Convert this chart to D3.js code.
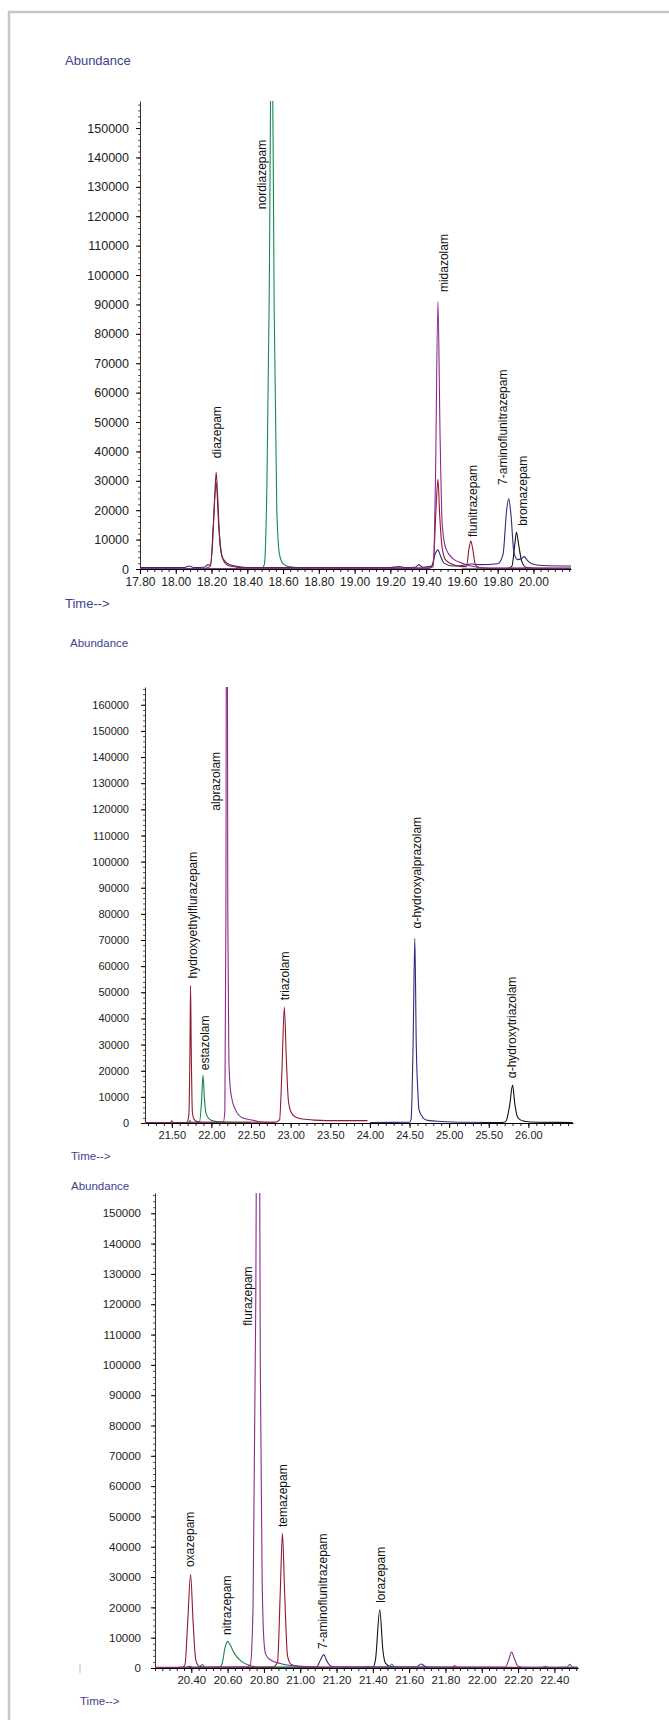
<!DOCTYPE html>
<html lang="en">
<head>
    <meta charset="UTF-8">
    <title>Benzodiazepine chromatograms</title>
    <script src="https://d3js.org/d3.v7.min.js"></script>
    <style>
        body { margin: 0; background: #fff; }
        svg { display: block; }
    </style>
</head>
<body>
    <div id="chart"></div>
    <script>
        // ---- run 1 : 17.80 - 20.2 min ----
        const run1TimeTicks = ["17.80", "18.00", "18.20", "18.40", "18.60", "18.80", "19.00", "19.20", "19.40", "19.60", "19.80", "20.00"];
        const run1AbundanceTicks = [0, 10000, 20000, 30000, 40000, 50000, 60000, 70000, 80000, 90000, 100000, 110000, 120000, 130000, 140000, 150000];
        const run1Green = [[17.80, 100], [18.40, 100], [18.48, 200], [18.495, 1500], [18.51, 30000], [18.522, 90000], [18.537, 200000], [18.55, 90000], [18.565, 20000], [18.58, 5000], [18.60, 1800], [18.63, 800], [18.70, 400], [18.80, 250], [19.40, 200]];
        const run1Maroon = [[17.80, 0], [18.15, 100], [18.19, 800], [18.205, 8000], [18.218, 25000], [18.226, 33000], [18.234, 25000], [18.248, 8000], [18.27, 2500], [18.30, 1000], [18.40, 300], [19.42, 300], [19.44, 2000], [19.455, 20000], [19.466, 30500], [19.476, 18000], [19.49, 7000], [19.51, 3000], [19.55, 1500], [19.60, 800], [19.625, 800], [19.64, 7000], [19.65, 9500], [19.66, 7000], [19.675, 1500], [19.70, 400], [19.80, 200], [20.21, 200]];
        const run1Navy = [[17.80, 500], [18.05, 500], [18.075, 1000], [18.10, 500], [18.16, 600], [18.18, 1500], [18.195, 1200], [18.21, 15000], [18.226, 29500], [18.24, 15000], [18.26, 4000], [18.30, 1500], [18.35, 800], [18.40, 500], [19.20, 500], [19.25, 800], [19.28, 500], [19.34, 600], [19.36, 1500], [19.38, 600], [19.43, 1000], [19.45, 5000], [19.466, 6500], [19.48, 4500], [19.50, 2000], [19.55, 1000], [19.60, 1200], [19.65, 1700], [19.70, 1500], [19.80, 1800], [19.83, 5000], [19.85, 20000], [19.862, 24000], [19.875, 18000], [19.89, 6000], [19.91, 3200], [19.935, 3600], [19.948, 4200], [19.965, 3000], [19.99, 1800], [20.05, 1200], [20.21, 1000]];
        const run1Purple = [[17.80, 100], [19.40, 200], [19.44, 800], [19.452, 30000], [19.466, 91000], [19.478, 45000], [19.49, 15000], [19.51, 7000], [19.55, 3500], [19.60, 2000], [19.65, 1000], [19.70, 500], [19.80, 300], [20.21, 300]];
        const run1Black = [[19.60, 0], [19.85, 100], [19.88, 1000], [19.895, 8000], [19.905, 12500], [19.918, 8000], [19.935, 2500], [19.96, 500], [20.00, 200], [20.21, 100]];
        const run1Names = ["diazepam", "nordiazepam", "midazolam", "flunitrazepam", "7-aminoflunitrazepam", "bromazepam"];
        const run1NameTimes = [18.23, 18.48, 19.50, 19.66, 19.83, 19.94];
        const run1NameLevels = [37700, 122400, 94200, 10900, 28600, 14700];

        // ---- run 2 : 21.2 - 26.5 min ----
        const run2TimeTicks = ["21.50", "22.00", "22.50", "23.00", "23.50", "24.00", "24.50", "25.00", "25.50", "26.00"];
        const run2AbundanceTicks = [0, 10000, 20000, 30000, 40000, 50000, 60000, 70000, 80000, 90000, 100000, 110000, 120000, 130000, 140000, 150000, 160000];
        const run2Maroon = [[21.162, 0], [21.69, 200], [21.715, 3000], [21.73, 30000], [21.737, 52600], [21.745, 30000], [21.76, 4000], [21.78, 1500], [21.82, 600], [21.90, 300], [22.80, 300], [22.86, 1200], [22.89, 20000], [22.92, 44400], [22.945, 25000], [22.97, 9000], [23.00, 4500], [23.05, 2500], [23.15, 1500], [23.30, 1100], [23.60, 900], [23.97, 900]];
        const run2Green = [[21.60, 100], [21.72, 300], [21.73, 1000], [21.74, 300], [21.85, 500], [21.875, 8000], [21.894, 18300], [21.91, 10000], [21.93, 4000], [21.96, 2000], [22.00, 1000], [22.10, 500], [22.50, 300]];
        const run2Purple = [[21.162, 200], [21.48, 200], [21.50, 800], [21.52, 200], [22.15, 300], [22.17, 5000], [22.183, 80000], [22.195, 300000], [22.207, 80000], [22.22, 25000], [22.235, 14500], [22.26, 9000], [22.30, 5300], [22.39, 2000], [22.53, 1000], [22.60, 500], [22.80, 300]];
        const run2Navy = [[24.00, 200], [24.50, 300], [24.52, 1500], [24.545, 30000], [24.567, 70700], [24.585, 30000], [24.605, 12000], [24.62, 5000], [24.67, 2000], [24.73, 1000], [24.90, 600], [25.20, 300], [25.60, 200]];
        const run2Black = [[25.40, 100], [25.70, 300], [25.725, 1200], [25.765, 7000], [25.80, 14500], [25.83, 7000], [25.86, 2500], [25.90, 1200], [25.95, 700], [26.10, 300], [26.56, 200]];
        const run2Names = ["hydroxyethylflurazepam", "estazolam", "alprazolam", "triazolam", "α-hydroxyalprazolam", "α-hydroxytriazolam"];
        const run2NameTimes = [21.76, 21.918, 22.05, 22.93, 24.586, 25.793];
        const run2NameLevels = [55300, 20200, 119500, 47000, 74400, 17100];

        // ---- run 3 : 20.2 - 22.5 min ----
        const run3TimeTicks = ["20.40", "20.60", "20.80", "21.00", "21.20", "21.40", "21.60", "21.80", "22.00", "22.20", "22.40"];
        const run3AbundanceTicks = [0, 10000, 20000, 30000, 40000, 50000, 60000, 70000, 80000, 90000, 100000, 110000, 120000, 130000, 140000, 150000];
        const run3Maroon = [[20.20, 0], [20.35, 200], [20.365, 1000], [20.38, 15000], [20.396, 30800], [20.41, 15000], [20.425, 2500], [20.445, 500], [20.50, 200], [20.85, 300], [20.875, 2000], [20.89, 25000], [20.902, 44400], [20.914, 25000], [20.93, 4000], [20.95, 1200], [21.00, 400], [21.10, 200], [22.53, 100]];
        const run3Green = [[20.20, 0], [20.44, 200], [20.46, 1100], [20.48, 200], [20.555, 300], [20.57, 1500], [20.585, 6500], [20.60, 8800], [20.615, 7500], [20.636, 4900], [20.676, 2200], [20.725, 800], [20.76, 300], [21.35, 200], [21.375, 600], [21.40, 200], [21.49, 300], [21.505, 1300], [21.52, 300], [22.33, 200], [22.35, 600], [22.37, 200], [22.47, 300], [22.485, 1200], [22.50, 300], [22.53, 200]];
        const run3Purple = [[20.20, 200], [20.70, 300], [20.725, 1000], [20.74, 20000], [20.755, 120000], [20.768, 300000], [20.78, 100000], [20.79, 30000], [20.80, 9000], [20.81, 4500], [20.835, 2700], [20.89, 1500], [20.95, 800], [21.05, 400], [21.20, 200], [21.83, 200], [21.85, 700], [21.87, 200], [22.13, 300], [22.15, 3000], [22.164, 5300], [22.18, 3000], [22.20, 600], [22.25, 200], [22.53, 200]];
        const run3Navy = [[20.20, 100], [20.37, 200], [20.39, 600], [20.41, 200], [21.09, 300], [21.11, 2500], [21.13, 4400], [21.145, 2500], [21.17, 600], [21.20, 300], [21.64, 300], [21.665, 1300], [21.69, 500], [21.75, 200], [22.53, 100]];
        const run3Black = [[20.20, 0], [21.40, 200], [21.415, 3000], [21.438, 19200], [21.455, 6000], [21.47, 1500], [21.50, 400], [21.60, 200], [22.53, 100]];
        const run3Names = ["oxazepam", "nitrazepam", "flurazepam", "temazepam", "7-aminoflunitrazepam", "lorazepam"];
        const run3NameTimes = [20.39, 20.593, 20.709, 20.902, 21.125, 21.444];
        const run3NameLevels = [33300, 10900, 112900, 46500, 6300, 21500];

        const colors = { green: "#16894a", maroon: "#8e1b30", navy: "#2d2b7c", purple: "#8a2b8e", black: "#111111" };
        const inkBlue = "#3f3f8f";

        const svg = d3.select("#chart")
            .append("svg")
            .attr("width", 669)
            .attr("height", 1720);

        // light frame round the page
        svg.append("rect")
            .attr("x", 9).attr("y", 12)
            .attr("width", 700).attr("height", 1760)
            .attr("fill", "none")
            .attr("stroke", "#c6c6c6")
            .attr("stroke-width", 2.5);

        function drawRun(cfg) {
            const x = d3.scaleLinear().domain(cfg.timeDomain).range([cfg.left, cfg.right]);
            const y = d3.scaleLinear().domain([0, cfg.top]).range([cfg.bottom, cfg.axisTop]);
            const g = svg.append("g");

            const clipId = "clip" + cfg.id;
            svg.append("clipPath").attr("id", clipId)
                .append("rect")
                .attr("x", cfg.left).attr("y", cfg.axisTop)
                .attr("width", cfg.right - cfg.left).attr("height", cfg.bottom - cfg.axisTop);

            // y axis, dotted look from the small ticks
            const yMinor = d3.range(0, cfg.top, 2000);
            g.append("g")
                .attr("transform", `translate(${cfg.left},0)`)
                .call(d3.axisLeft(y).tickValues(yMinor).tickSize(2).tickFormat(""))
                .call(a => a.select(".domain").remove())
                .selectAll("line").attr("stroke", "#555");
            const yAxis = g.append("g")
                .attr("transform", `translate(${cfg.left},0)`)
                .call(d3.axisLeft(y).tickValues(cfg.yTicks).tickSize(4).tickPadding(cfg.yPad)
                    .tickSizeOuter(0).tickFormat(d3.format("d")));
            yAxis.select(".domain").attr("stroke", "#333");
            yAxis.selectAll("text")
                .attr("font-family", "Liberation Sans, Arial, sans-serif")
                .attr("font-size", cfg.yFont)
                .attr("fill", "#222");

            // x axis
            const xMinor = d3.range(cfg.minorStart, cfg.timeDomain[1], cfg.minorStep);
            g.append("g")
                .attr("transform", `translate(0,${cfg.bottom})`)
                .call(d3.axisBottom(x).tickValues(xMinor).tickSize(3).tickFormat(""))
                .call(a => a.select(".domain").remove())
                .selectAll("line").attr("stroke", "#222");
            const xAxis = g.append("g")
                .attr("transform", `translate(0,${cfg.bottom})`)
                .call(d3.axisBottom(x).tickValues(cfg.xTicks.map(Number)).tickSize(5).tickSizeOuter(0)
                    .tickFormat((d, i) => cfg.xTicks[i]).tickPadding(3));
            xAxis.select(".domain").attr("stroke", "#000").attr("stroke-width", 1.2);
            xAxis.selectAll("text")
                .attr("font-family", "Liberation Sans, Arial, sans-serif")
                .attr("font-size", cfg.xFont)
                .attr("fill", "#222");

            // traces
            const line = d3.line()
                .x(d => x(d[0]))
                .y(d => y(d[1]))
                .curve(d3.curveMonotoneX);
            const traces = g.append("g").attr("clip-path", `url(#${clipId})`);
            cfg.traces.forEach(tr => {
                traces.append("path")
                    .datum(tr.points)
                    .attr("fill", "none")
                    .attr("stroke", tr.color)
                    .attr("stroke-width", 1.1)
                    .attr("stroke-linejoin", "round")
                    .attr("d", line);
            });

            // peak names
            cfg.names.forEach((name, i) => {
                g.append("text")
                    .attr("transform", `translate(${x(cfg.nameTimes[i])},${y(cfg.nameLevels[i])}) rotate(-90)`)
                    .attr("dy", "0.35em")
                    .attr("font-family", "Liberation Sans, Arial, sans-serif")
                    .attr("font-size", 12)
                    .attr("fill", "#111")
                    .text(name);
            });

            // titles
            svg.append("text")
                .attr("x", cfg.titleX).attr("y", cfg.titleY)
                .attr("font-family", "Liberation Sans, Arial, sans-serif")
                .attr("font-size", cfg.titleFont)
                .attr("fill", inkBlue)
                .text("Abundance");
            svg.append("text")
                .attr("x", cfg.timeX).attr("y", cfg.timeY)
                .attr("font-family", "Liberation Sans, Arial, sans-serif")
                .attr("font-size", cfg.titleFont)
                .attr("fill", inkBlue)
                .text("Time-->");
        }

        drawRun({
            id: 1, timeDomain: [17.80, 20.21], top: 159200,
            left: 140, right: 571, axisTop: 101, bottom: 569,
            yTicks: run1AbundanceTicks, xTicks: run1TimeTicks,
            minorStart: 17.80, minorStep: 0.04, yPad: 7, yFont: 12.5, xFont: 12,
            traces: [
                { points: run1Green, color: colors.green },
                { points: run1Black, color: colors.black },
                { points: run1Navy, color: colors.navy },
                { points: run1Maroon, color: colors.maroon },
                { points: run1Purple, color: colors.purple }
            ],
            names: run1Names, nameTimes: run1NameTimes, nameLevels: run1NameLevels,
            titleX: 65, titleY: 65, timeX: 65, timeY: 608, titleFont: 13
        });

        drawRun({
            id: 2, timeDomain: [21.162, 26.563], top: 166800,
            left: 145, right: 573, axisTop: 687, bottom: 1123,
            yTicks: run2AbundanceTicks, xTicks: run2TimeTicks,
            minorStart: 21.2, minorStep: 0.1, yPad: 12, yFont: 11, xFont: 11,
            traces: [
                { points: run2Green, color: colors.green },
                { points: run2Purple, color: colors.purple },
                { points: run2Maroon, color: colors.maroon },
                { points: run2Navy, color: colors.navy },
                { points: run2Black, color: colors.black }
            ],
            names: run2Names, nameTimes: run2NameTimes, nameLevels: run2NameLevels,
            titleX: 70, titleY: 647, timeX: 71, timeY: 1160, titleFont: 11.5
        });

        drawRun({
            id: 3, timeDomain: [20.20, 22.53], top: 156700,
            left: 155, right: 578, axisTop: 1193, bottom: 1668,
            yTicks: run3AbundanceTicks, xTicks: run3TimeTicks,
            minorStart: 20.20, minorStep: 0.04, yPad: 10, yFont: 11.5, xFont: 11.5,
            traces: [
                { points: run3Black, color: colors.black },
                { points: run3Navy, color: colors.navy },
                { points: run3Green, color: colors.green },
                { points: run3Maroon, color: colors.maroon },
                { points: run3Purple, color: colors.purple }
            ],
            names: run3Names, nameTimes: run3NameTimes, nameLevels: run3NameLevels,
            titleX: 71, titleY: 1190, timeX: 80, timeY: 1705, titleFont: 11.5
        });

        // stray mark left of the last baseline
        svg.append("line")
            .attr("x1", 80).attr("x2", 80).attr("y1", 1664).attr("y2", 1673)
            .attr("stroke", "#bbb");
    </script>
</body>
</html>
